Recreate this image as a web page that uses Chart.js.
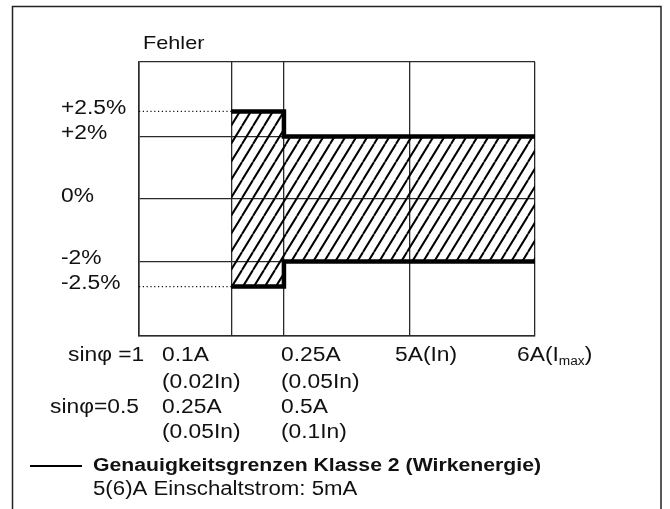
<!DOCTYPE html>
<html>
<head>
<meta charset="utf-8">
<title>Genauigkeitsgrenzen Klasse 2</title>
<script src="https://cdn.jsdelivr.net/npm/chart.js@4.4.0/dist/chart.umd.min.js"></script>
<style>
  body { margin: 0; background: #fff; }
  canvas { display: block; }
</style>
</head>
<body>
<canvas id="errChart" width="670" height="509"></canvas>
<script>
// Fehlergrenzen (in %) ab dem jeweiligen Strom
const currentPos = [23.3, 36.6, 68.3, 100];   // schematische Lage von 0.1A, 0.25A, 5A, 6A
const upperErr = [2.5, 2, 2, 2];
const lowerErr = [-2.5, -2, -2, -2];

// Achsenbeschriftung
const errTicks = [2.5, 2, 0, -2, -2.5];
const errLabels = ['+2.5%', '+2%', '0%', '-2%', '-2.5%'];
const sin1Currents = ['0.1A', '0.25A', '5A(In)', '6A(I_max)'];
const sin1Nominal = ['(0.02In)', '(0.05In)'];
const sin05Currents = ['0.25A', '0.5A'];
const sin05Nominal = ['(0.05In)', '(0.1In)'];

const FONT = 'Liberation Sans, Arial, sans-serif';
const SX = 1.14; // text is stretched horizontally in the original

// display mapping: the band between 2% and 2.5% is drawn wider than scale
function toDisp(v) {
    const a = Math.abs(v);
    const d = a <= 2 ? a : 2 + (a - 2) * 1.6;
    return Math.sign(v) * d;
}

function makeHatch() {
    const c = document.createElement('canvas');
    c.width = 11;
    c.height = 18;
    const g = c.getContext('2d');
    g.strokeStyle = '#000';
    g.lineWidth = 2;
    g.beginPath();
    for (let k = -1; k <= 1; k++) {
        g.moveTo(k * 11, 18);
        g.lineTo(k * 11 + 11, 0);
    }
    g.stroke();
    return g.createPattern(c, 'repeat');
}

function stretchText(ctx, text, x, y, size, bold) {
    ctx.save();
    ctx.font = (bold ? 'bold ' : '') + size + 'px ' + FONT;
    ctx.fillStyle = '#111';
    ctx.textAlign = 'left';
    ctx.textBaseline = 'middle';
    ctx.translate(x, y);
    ctx.scale(bold ? 1.13 : SX, 1);
    if (text.indexOf('_') >= 0) {
        // subscript, e.g. 6A(I_max)
        const parts = text.split('_');
        const main = parts[0];
        const sub = parts[1].replace(')', '');
        ctx.fillText(main, 0, 0);
        let w = ctx.measureText(main).width;
        ctx.font = '12px ' + FONT;
        ctx.fillText(sub, w, 7);
        w += ctx.measureText(sub).width;
        ctx.font = size + 'px ' + FONT;
        ctx.fillText(')', w, 0);
    } else {
        ctx.fillText(text, 0, 0);
    }
    ctx.restore();
}

function toPoints(vals) {
    return vals.map((v, i) => ({ x: currentPos[i], y: toDisp(v) }));
}

const textPlugin = {
    id: 'texts',
    beforeDraw(chart) {
        const ctx = chart.ctx;
        // outer frame
        ctx.save();
        ctx.strokeStyle = '#222';
        ctx.lineWidth = 1.5;
        ctx.strokeRect(12.5, 6.5, 648.5, 520);
        ctx.restore();
    },
    afterDraw(chart) {
        const ctx = chart.ctx;
        const yScale = chart.scales.y;
        const fs = 20;

        stretchText(ctx, 'Fehler', 143, 44, 19);

        errTicks.forEach((v, i) => {
            const y = yScale.getPixelForValue(toDisp(v)) - 3;
            stretchText(ctx, errLabels[i], 61, y, fs);
        });

        const colX = [162, 281, 395, 517];
        const rows = [355, 382, 407, 432];
        stretchText(ctx, 'sin\u03C6 =1', 68, rows[0], fs);
        stretchText(ctx, 'sin\u03C6=0.5', 50, rows[2], fs);
        sin1Currents.forEach((t, i) => stretchText(ctx, t, colX[i], rows[0], fs));
        sin1Nominal.forEach((t, i) => stretchText(ctx, t, colX[i], rows[1], fs));
        sin05Currents.forEach((t, i) => stretchText(ctx, t, colX[i], rows[2], fs));
        sin05Nominal.forEach((t, i) => stretchText(ctx, t, colX[i], rows[3], fs));

        // legend
        ctx.save();
        ctx.strokeStyle = '#000';
        ctx.lineWidth = 2.2;
        ctx.beginPath();
        ctx.moveTo(30, 466);
        ctx.lineTo(82, 466);
        ctx.stroke();
        ctx.restore();
        stretchText(ctx, 'Genauigkeitsgrenzen Klasse 2 (Wirkenergie)', 93, 466, 18.8, true);
        stretchText(ctx, '5(6)A Einschaltstrom: 5mA', 93, 490, 19.5);
    }
};

const ctx = document.getElementById('errChart').getContext('2d');
const hatch = makeHatch();
const Y_MAX = 4.38;

new Chart(ctx, {
    type: 'line',
    data: {
        datasets: [
            {
                label: 'upper',
                data: toPoints(upperErr),
                stepped: true,
                borderColor: '#000',
                borderWidth: 4.5,
                pointRadius: 0,
                fill: '+1',
                backgroundColor: hatch
            },
            {
                label: 'lower',
                data: toPoints(lowerErr),
                stepped: true,
                borderColor: '#000',
                borderWidth: 4.5,
                pointRadius: 0,
                fill: false
            },
            {
                label: 'dot+',
                data: [{ x: 0, y: toDisp(upperErr[0]) }, { x: currentPos[0], y: toDisp(upperErr[0]) }],
                borderColor: '#111',
                borderWidth: 1.2,
                borderDash: [1.2, 2.6],
                pointRadius: 0,
                fill: false
            },
            {
                label: 'dot-',
                data: [{ x: 0, y: toDisp(lowerErr[0]) }, { x: currentPos[0], y: toDisp(lowerErr[0]) }],
                borderColor: '#111',
                borderWidth: 1.2,
                borderDash: [1.2, 2.6],
                pointRadius: 0,
                fill: false
            }
        ]
    },
    options: {
        responsive: false,
        animation: false,
        layout: {
            padding: { left: 139, top: 62, right: 135, bottom: 173 }
        },
        plugins: {
            legend: { display: false },
            tooltip: { enabled: false }
        },
        scales: {
            x: {
                type: 'linear',
                min: 0,
                max: 100,
                afterBuildTicks: (scale) => {
                    scale.ticks = [0].concat(currentPos).map(v => ({ value: v }));
                },
                ticks: { display: false },
                grid: { color: '#2a2a2a', lineWidth: 1.3, drawTicks: false },
                border: { color: '#2a2a2a', width: 1.6 }
            },
            y: {
                type: 'linear',
                min: -Y_MAX,
                max: Y_MAX,
                afterBuildTicks: (scale) => {
                    scale.ticks = [-Y_MAX, -2, 0, 2, Y_MAX].map(v => ({ value: v }));
                },
                ticks: { display: false },
                grid: { color: '#2a2a2a', lineWidth: 1.3, drawTicks: false },
                border: { color: '#2a2a2a', width: 1.6 }
            }
        }
    },
    plugins: [textPlugin]
});
</script>
</body>
</html>
